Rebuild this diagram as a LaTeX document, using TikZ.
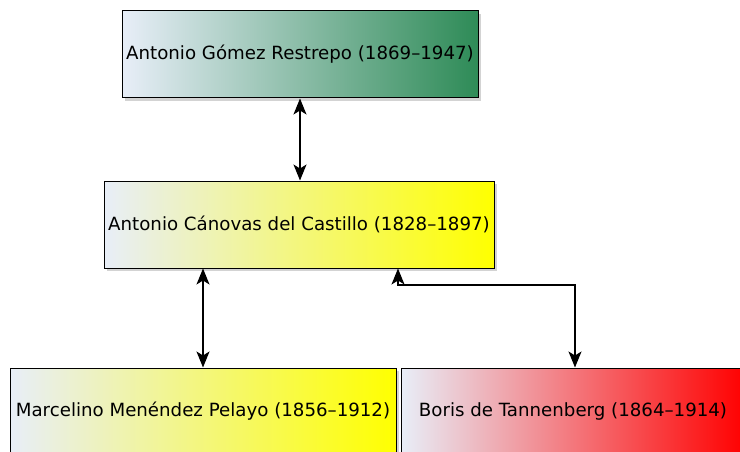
\documentclass[tikz,border=0pt]{standalone}
\usepackage{fontspec}
\setsansfont{DejaVu Sans}
\usetikzlibrary{arrows.meta, shadows}
\definecolor{cpale}{HTML}{E8EEF8}
\definecolor{cgreen}{HTML}{2E8B57}
\definecolor{cyellow}{HTML}{FFFF00}
\definecolor{cred}{HTML}{FF0000}
\tikzset{
  every picture/.style={font=\sffamily\fontsize{18.2}{21}\selectfont},
  person/.style={draw=black, line width=1pt, left color=cpale, right color=#1, minimum height=87pt, inner sep=0pt, drop shadow={shadow xshift=3pt, shadow yshift=-3pt, opacity=0.35}},
  link/.style={{Stealth[length=16pt, width=13pt, inset=4pt]}-{Stealth[length=16pt, width=13pt, inset=4pt]}, line width=1.3pt},
}
\begin{document}
\begin{tikzpicture}[x=1pt, y=-1pt]
  \useasboundingbox (0,0) rectangle (740,452);
  \node[person=cgreen, minimum width=356pt] (gomez) at (300,54.5) {Antonio Gómez Restrepo (1869--1947)};
  \node[person=cyellow, minimum width=390pt] (canovas) at (299,224.5) {Antonio Cánovas del Castillo (1828--1897)};
  \node[person=cyellow, minimum width=386pt] (menendez) at (203,411.5) {Marcelino Menéndez Pelayo (1856--1912)};
  \node[person=cred, minimum width=344pt] (tannenberg) at (573,411.5) {Boris de Tannenberg (1864--1914)};
  \draw[link] (gomez.south -| 300,0) -- (canovas.north -| 300,0);
  \draw[link] (canovas.south -| 203,0) -- (menendez.north -| 203,0);
  \draw[link] (canovas.south -| 398,0) -- (398,285) -- (575,285) -- (tannenberg.north -| 575,0);
\end{tikzpicture}
\end{document}
